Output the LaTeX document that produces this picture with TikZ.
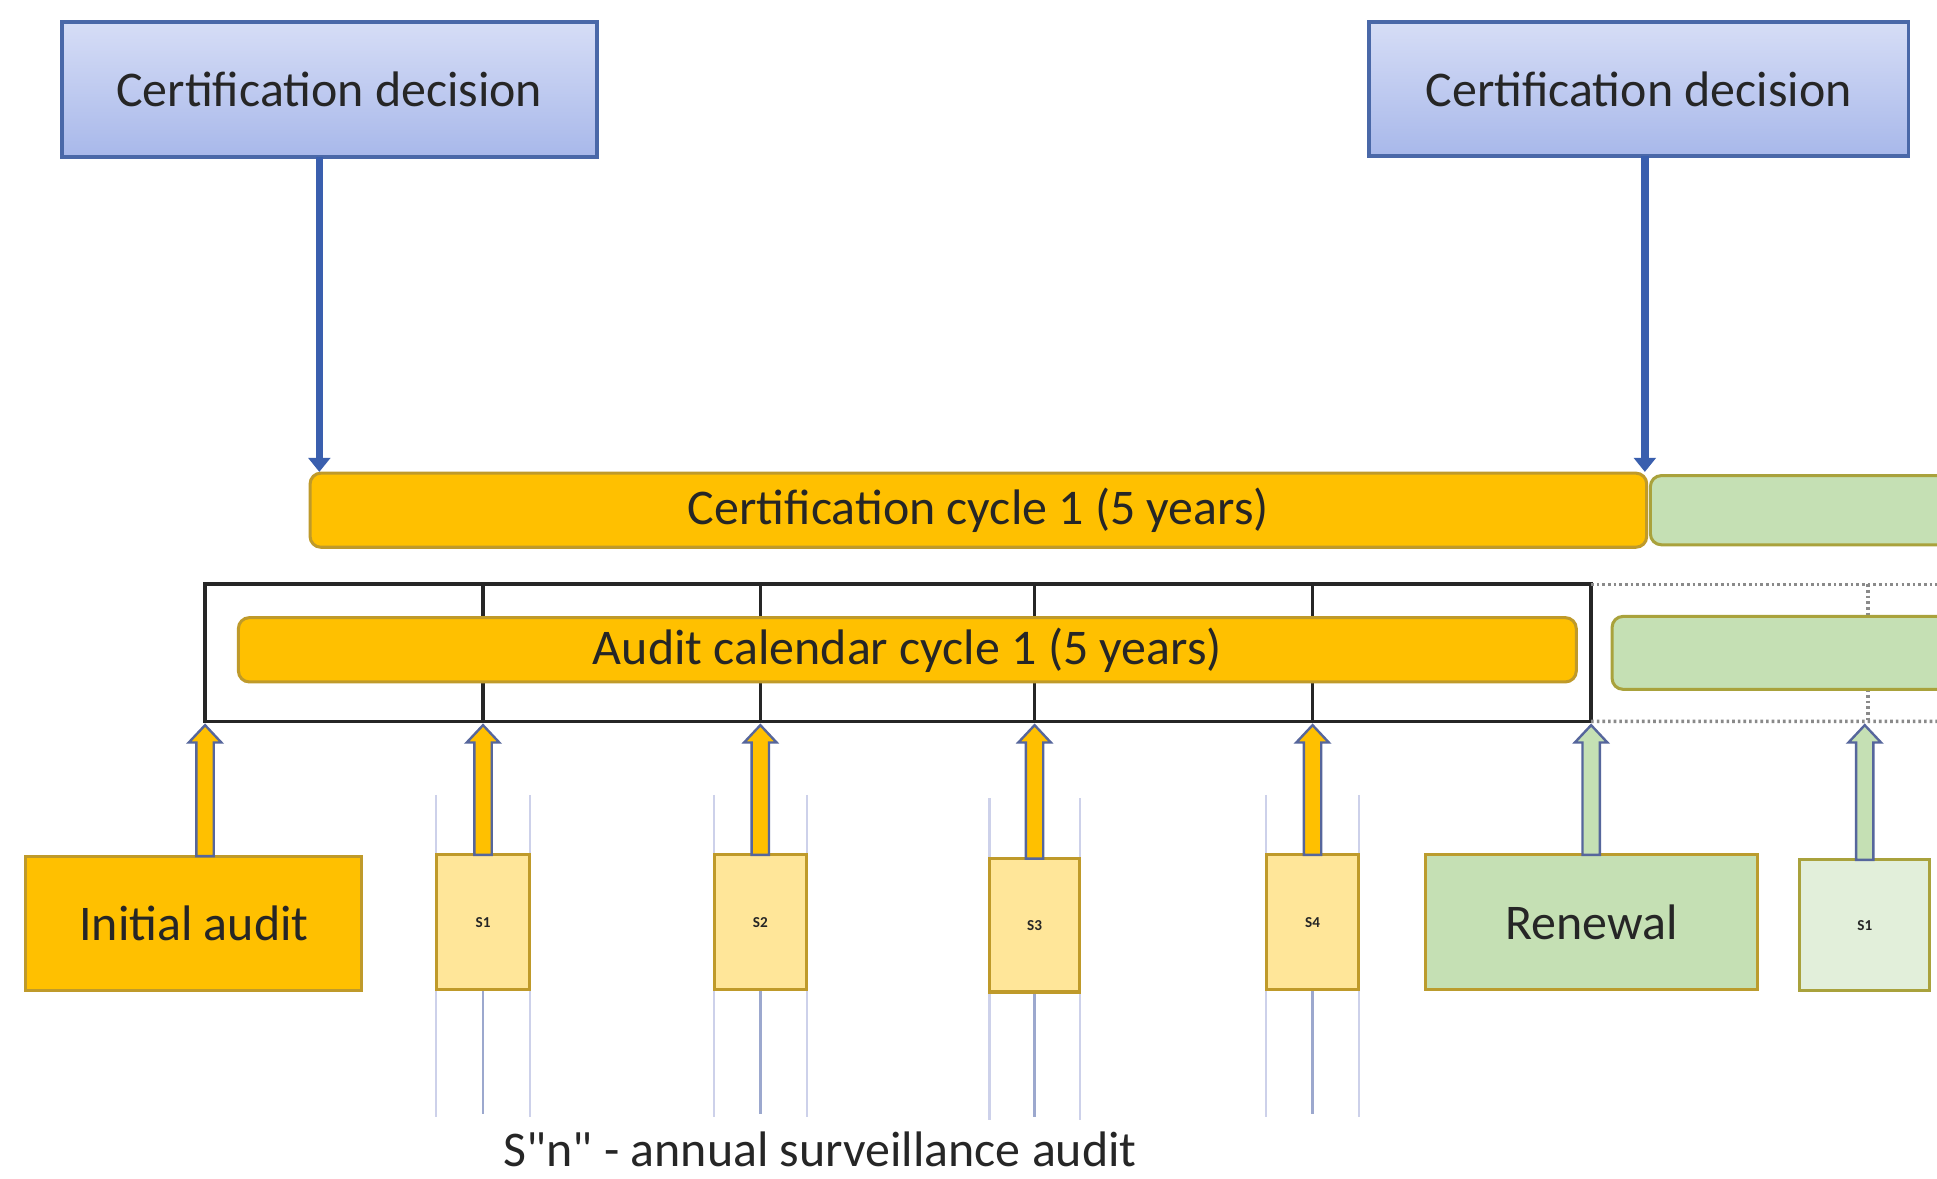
\documentclass[tikz,border=0pt]{standalone}
\usepackage{fontspec}
\setmainfont{Carlito}[Ligatures=TeXOff]
\usetikzlibrary{calc,arrows.meta}
\definecolor{gold}{HTML}{FFC000}
\definecolor{goldline}{HTML}{BF9A2A}
\definecolor{paleyel}{HTML}{FFE699}
\definecolor{greenfill}{HTML}{C5E0B4}
\definecolor{greenline}{HTML}{A9A23C}
\definecolor{palegreen}{HTML}{E2EFDA}
\definecolor{bluefilla}{HTML}{D6DDF6}
\definecolor{bluefillb}{HTML}{A8B8EA}
\definecolor{blueline}{HTML}{4A68A8}
\definecolor{arrblue}{HTML}{3A5FAE}
\definecolor{arredge}{HTML}{56669C}
\definecolor{thinlight}{HTML}{CDD1EA}
\definecolor{thindark}{HTML}{9CA8CE}
\definecolor{textdark}{HTML}{262626}
\definecolor{dotgray}{HTML}{8A8A8A}
\tikzset{
  bb/.style n args={4}{at={({(#1+#3)/2},{(#2+#4)/2})},
    minimum width={(#3-#1)*0.02cm}, minimum height={(#4-#2)*0.02cm},
    inner sep=0pt, outer sep=0pt},
  txt/.style={font=\fontsize{23}{27}\selectfont, text=textdark},
  decbox/.style={draw=blueline, line width=1.7pt, top color=bluefilla, bottom color=bluefillb, txt},
  goldbar/.style={draw=goldline, line width=1.4pt, fill=gold, rounded corners=5pt, txt},
  greenbar/.style={draw=greenline, line width=1.4pt, fill=greenfill, rounded corners=5pt},
  goldbox/.style={draw=goldline, line width=1.4pt, fill=gold, txt},
  survbox/.style={draw=goldline, line width=1.4pt, fill=paleyel, font=\bfseries\fontsize{7}{8}\selectfont, text=textdark},
  renbox/.style={draw=goldline!80!greenline, line width=1.4pt, fill=greenfill, txt},
  survgbox/.style={draw=greenline, line width=1.4pt, fill=palegreen, font=\bfseries\fontsize{7}{8}\selectfont, text=textdark},
  frameline/.style={draw=black!85, line width=1.7pt},
  dotline/.style={draw=dotgray, line width=1.6pt, dash pattern=on 1.2pt off 1.4pt},
  downarrow/.style={draw=arrblue, line width=3.4pt, -{Triangle[width=10pt,length=6.5pt]}},
  blockarrow/.style={draw=arredge, line width=1.1pt, line join=miter},
  thinA/.style={draw=thinlight, line width=1pt},
  thinB/.style={draw=thindark, line width=1.2pt},
}
\newcommand\blockup[3]{%
  \draw[blockarrow, fill=#1] let \p1=(#2), \p2=(#3) in
    (\x1-4pt,\y1) -- (\x1-4pt,\y2-8pt) -- (\x1-7.5pt,\y2-8pt) -- (\x1,\y2)
    -- (\x1+7.5pt,\y2-8pt) -- (\x1+4pt,\y2-8pt) -- (\x1+4pt,\y1) -- cycle;}
\begin{document}
\begin{tikzpicture}[x=0.02cm,y=-0.02cm]
\clip (0,0) rectangle (1568,954);
\fill[white] (0,0) rectangle (1568,954);

% bottom row boxes (positions first, for reference)
\path
  node[bb={21}{693}{293}{802}] (ia) {}
  node[bb={353}{692}{429}{801}] (s1) {}
  node[bb={578}{692}{653}{801}] (s2) {}
  node[bb={801}{695}{874}{803}] (s3) {}
  node[bb={1025}{692}{1100}{801}] (s4) {}
  node[bb={1154}{692}{1423}{801}] (ren) {}
  node[bb={1457}{696}{1562}{802}] (sg) {};

% thin guide lines around surveillance audits
\foreach \b in {s1,s2,s3,s4}{
  \draw[thinA] ($(\b.west)+(0,-103)$) -- ($(\b.west)+(0,158)$);
  \draw[thinA] ($(\b.east)+(0,-103)$) -- ($(\b.east)+(0,158)$);
  \draw[thinB] (\b.south) -- ($(\b.south)+(0,101)$);
}

% frame and dividers
\node[frameline, bb={166}{473}{1288}{584}] (frame) {};
\foreach \b in {s1,s2,s3,s4}{
  \draw[frameline] (\b.center |- frame.north) -- (\b.center |- frame.south);
}
\coordinate (dv) at (1512,0);
\draw[dotline] (frame.north east) -- (1568,473);
\draw[dotline] (frame.south east) -- (1568,584);
\draw[dotline] (dv |- frame.north) -- (1512,499);
\draw[dotline] (1512,558) -- (dv |- frame.south);

% bars
\node[goldbar, bb={251}{383}{1333}{443}] (cyc1) {Certification cycle 1 (5 years)};
\node[greenbar, bb={1336}{385}{1640}{441}] (cyc2) {};
\node[goldbar, bb={193}{500}{1276}{552}] (cal1) {Audit calendar cycle 1 (5 years)};
\node[greenbar, bb={1305}{499}{1640}{558}] (cal2) {};

% decision boxes
\node[decbox, bb={50}{18}{483}{127}] (cd1) {Certification decision};
\node[decbox, bb={1108}{18}{1545}{126}] (cd2) {Certification decision};
\draw[downarrow] ($(cd1.south)+(-8,0)$) -- ($(cd1.south |- cyc1.north)+(-8,-1)$);
\draw[downarrow] ($(cd2.south)+(5,0)$) -- ($(cd2.south |- cyc1.north)+(5,-1)$);

% bottom boxes drawn
\node[goldbox, bb={21}{693}{293}{802}] at (ia) {Initial audit};
\node[survbox, bb={353}{692}{429}{801}] at (s1) {S1};
\node[survbox, bb={578}{692}{653}{801}] at (s2) {S2};
\node[survbox, bb={801}{695}{874}{803}] at (s3) {S3};
\node[survbox, bb={1025}{692}{1100}{801}] at (s4) {S4};
\node[renbox, bb={1154}{692}{1423}{801}] at (ren) {Renewal};
\node[survgbox, bb={1457}{696}{1562}{802}] at (sg) {S1};

% block arrows
\blockup{gold}{ia.north -| frame.south west}{$(frame.south west)+(0,3)$}
\blockup{gold}{s1.north}{$(s1.north |- frame.south)+(0,3)$}
\blockup{gold}{s2.north}{$(s2.north |- frame.south)+(0,3)$}
\blockup{gold}{s3.north}{$(s3.north |- frame.south)+(0,3)$}
\blockup{gold}{s4.north}{$(s4.north |- frame.south)+(0,3)$}
\blockup{greenfill}{ren.north -| frame.south east}{$(frame.south east)+(0,3)$}
\blockup{greenfill}{sg.north}{$(sg.north |- frame.south)+(0,3)$}

\node[txt, anchor=base] (legend) at (664,944) {S"n" - annual surveillance audit};
\end{tikzpicture}
\end{document}
